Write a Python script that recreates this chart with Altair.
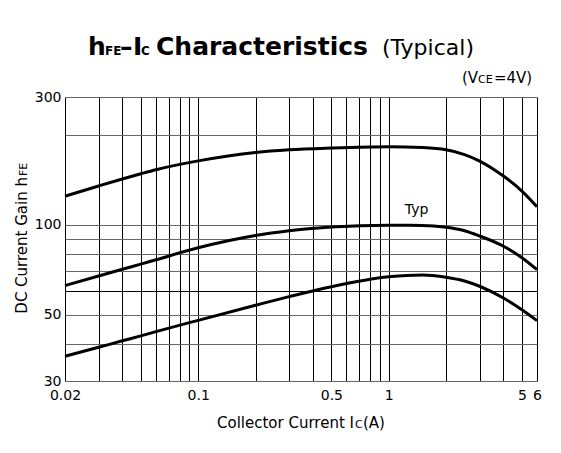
import altair as alt
import pandas as pd

# ---- data ----
ic = [0.02, 0.03, 0.04, 0.05, 0.06, 0.1, 0.2, 0.3, 0.5, 1, 1.5, 2, 2.5, 3, 4, 5, 6]
hfe_upper = [124.8, 135.0, 142.5, 148.3, 153.0, 163.8, 174.8, 178.4, 180.8, 182.6, 181.5, 178.5, 172.0, 163.6, 145.7, 129.8, 115.0]
hfe_typ = [62.6, 67.4, 71.0, 73.9, 76.4, 83.8, 92.1, 95.5, 98.4, 99.7, 99.6, 98.2, 95.6, 91.8, 84.8, 77.6, 70.8]
hfe_lower = [36.3, 38.9, 40.9, 42.5, 43.9, 47.9, 53.8, 57.5, 62.1, 67.0, 68.0, 66.8, 64.9, 62.3, 56.9, 52.0, 47.8]

x_grid = [0.02, 0.03, 0.04, 0.05, 0.06, 0.07, 0.08, 0.09, 0.1, 0.2, 0.3, 0.4, 0.5,
          0.6, 0.7, 0.8, 0.9, 1, 2, 3, 4, 5, 6]
x_labels = [0.02, 0.1, 0.5, 1, 5, 6]
y_grid = [30, 40, 50, 60, 70, 80, 90, 100, 200, 300]
y_labels = [30, 50, 100, 300]

typ_label_x = [1.4]
typ_label_y = [112]
typ_label_text = ["Typ"]

rows = []
for name, vals in [("upper", hfe_upper), ("typ", hfe_typ), ("lower", hfe_lower)]:
    for x, y in zip(ic, vals):
        rows.append({"series": name, "Ic": x, "hFE": y})
df = pd.DataFrame(rows)

W, H = 472, 284
FONT = "DejaVu Sans"

xscale = alt.Scale(type="log", domain=[0.02, 6], nice=False)
# the reference's vertical axis is compressed above 200 (300 sits at the top edge)
yscale = alt.Scale(type="log", domain=[30, 200, 300], range=[H, 38, 0], nice=False)

x_axis = alt.Axis(
    values=x_grid, title=None, ticks=False, domain=False, grid=True,
    gridColor="#000", gridWidth=1, gridOpacity=1,
    labelExpr="indexof(%s, datum.value) >= 0 ? format(datum.value, '~g') : ''" % str(x_labels),
    labelFont=FONT, labelFontSize=14, labelColor="#000", labelPadding=7,
    labelFlush=False, labelOverlap=False,
)
y_axis = alt.Axis(
    values=y_grid, title=None, ticks=False, domain=False, grid=True,
    gridColor={"condition": {"test": "datum.value == 60", "value": "#000"}, "value": "#666"},
    gridWidth=1, gridOpacity=1,
    labelExpr="indexof(%s, datum.value) >= 0 ? format(datum.value, '~g') : ''" % str(y_labels),
    labelFont=FONT, labelFontSize=14, labelColor="#000", labelPadding=4,
    labelOverlap=False, labelFlush=False,
)

lines = alt.Chart(df).mark_line(color="black", strokeWidth=3, interpolate="monotone").encode(
    x=alt.X("Ic:Q", scale=xscale, axis=x_axis),
    y=alt.Y("hFE:Q", scale=yscale, axis=y_axis),
    detail="series:N",
)

typ_df = pd.DataFrame({"Ic": typ_label_x, "hFE": typ_label_y, "t": typ_label_text})
typ = alt.Chart(typ_df).mark_text(font=FONT, fontSize=14, color="black").encode(
    x=alt.X("Ic:Q", scale=xscale), y=alt.Y("hFE:Q", scale=yscale), text="t:N"
)

OX, OY = 65, 97  # page position of plot origin


def seg(text, px, py, size, weight="normal", align="left", angle=0):
    d = pd.DataFrame({"t": [text]})
    kw = dict(font=FONT, fontSize=size, fontWeight=weight, align=align,
              baseline="alphabetic", color="black")
    if angle:
        kw["angle"] = angle
    return alt.Chart(d).mark_text(**kw).encode(
        x=alt.value(px - OX), y=alt.value(py - OY), text="t:N"
    )


texts = [
    # title
    seg("h", 88, 55, 25, "bold"),
    seg("FE", 105, 55, 12, "bold"),
    seg("\u2013", 120, 55, 25, "bold"),
    seg("I", 133, 55, 25, "bold"),
    seg("C", 141, 55, 12, "bold"),
    seg("Characteristics", 156, 55, 25, "bold"),
    seg("(Typical)", 382, 55, 22, "normal"),
    # condition
    seg("(V", 462, 83, 15),
    seg("CE", 478, 83, 11),
    seg("=4V)", 494, 83, 15),
    # x title
    seg("Collector Current I", 354, 428, 15, align="right"),
    seg("C", 355, 428, 11),
    seg("(A)", 363, 428, 15),
    # y title (rotated)
    seg("DC Current Gain h", 27, 177, 15, align="right", angle=270),
    seg("FE", 27, 176, 11, align="left", angle=270),
]

chart = alt.layer(lines, typ, *texts).properties(
    width=W, height=H,
    autosize=alt.AutoSizeParams(type="none"),
    padding={"left": OX - 8, "top": OY - 8, "right": 16, "bottom": 60},
).configure_view(stroke="black", strokeWidth=1.6).configure(background="white")

chart.save("out.html", embed_options={"renderer": "svg", "actions": False})
